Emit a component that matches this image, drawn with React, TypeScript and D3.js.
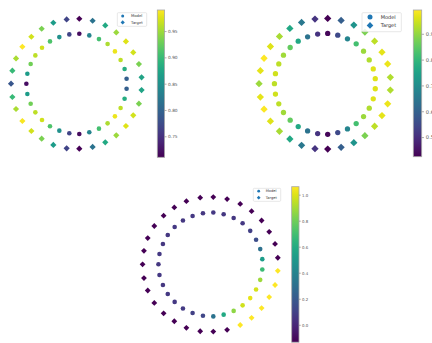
import React from "react";
import * as d3 from "d3";

// Ring geometry shared by all panels (data units, y up). Points run
// counter-clockwise starting at the top of each ring.
const targetX = [0, -0.38, -0.78, -1.13, -1.44, -1.71, -1.9, -2.01, -2.05, -2.01, -1.9, -1.71, -1.44, -1.13, -0.78, -0.38, 0, 0.4, 0.78, 1.11, 1.4, 1.62, 1.79, 1.87, 1.87, 1.79, 1.62, 1.4, 1.11, 0.78, 0.4];
const targetY = [1.95, 1.93, 1.83, 1.65, 1.41, 1.11, 0.76, 0.39, 0, -0.4, -0.76, -1.12, -1.42, -1.65, -1.84, -1.94, -1.95, -1.9, -1.76, -1.55, -1.27, -0.95, -0.6, -0.19, 0.19, 0.59, 0.94, 1.27, 1.54, 1.75, 1.89];
const modelX = [0, -0.3, -0.6, -0.88, -1.12, -1.32, -1.46, -1.56, -1.59, -1.56, -1.46, -1.32, -1.12, -0.88, -0.6, -0.3, 0, 0.3, 0.59, 0.85, 1.07, 1.24, 1.36, 1.42, 1.42, 1.36, 1.24, 1.07, 0.85, 0.59, 0.3];
const modelY = [1.5, 1.48, 1.4, 1.27, 1.08, 0.85, 0.59, 0.3, 0, -0.31, -0.6, -0.86, -1.09, -1.28, -1.41, -1.49, -1.51, -1.46, -1.35, -1.19, -0.98, -0.73, -0.45, -0.15, 0.15, 0.44, 0.71, 0.97, 1.19, 1.34, 1.45];

// Colour values per panel
const targetA = [0.711, 0.767, 0.865, 0.935, 0.972, 0.991, 0.955, 0.9, 0.786, 0.9, 0.955, 0.988, 0.972, 0.935, 0.865, 0.767, 0.713, 0.817, 0.88, 0.949, 0.977, 0.972, 0.935, 0.873, 0.873, 0.935, 0.972, 0.977, 0.949, 0.88, 0.817];
const modelA = [0.72, 0.767, 0.851, 0.913, 0.971, 0.963, 0.93, 0.865, 0.722, 0.865, 0.93, 0.963, 0.971, 0.913, 0.851, 0.767, 0.72, 0.837, 0.907, 0.957, 0.983, 0.963, 0.885, 0.795, 0.795, 0.885, 0.963, 0.983, 0.957, 0.907, 0.837];

const targetB = [0.426, 0.511, 0.653, 0.767, 0.92, 0.966, 0.994, 0.97, 0.909, 0.97, 0.99, 0.966, 0.92, 0.767, 0.653, 0.511, 0.428, 0.596, 0.721, 0.88, 0.937, 0.971, 0.977, 0.926, 0.926, 0.977, 0.971, 0.937, 0.88, 0.721, 0.596];
const modelB = [0.437, 0.511, 0.642, 0.767, 0.858, 0.914, 0.937, 0.954, 0.937, 0.954, 0.937, 0.914, 0.858, 0.767, 0.642, 0.511, 0.437, 0.551, 0.682, 0.824, 0.909, 0.926, 0.966, 0.966, 0.966, 0.966, 0.926, 0.909, 0.824, 0.682, 0.551];

const targetC = [-0.13, -0.13, -0.13, -0.13, -0.13, -0.13, -0.13, -0.13, -0.13, -0.13, -0.13, -0.13, -0.13, -0.13, -0.13, -0.13, -0.13, -0.13, 1.065, 1.065, 1.065, 1.065, 1.065, 1.065, -0.13, -0.13, -0.13, -0.13, -0.13, -0.13, -0.13];
const modelC = [0.07, 0.06, 0.07, 0.06, 0.07, 0.06, 0.06, 0.07, 0.06, 0.07, 0.06, 0.07, 0.07, 0.08, 0.09, 0.12, 0.32, 0.59, 0.86, 0.98, 1.02, 0.99, 0.89, 0.68, 0.53, 0.31, 0.15, 0.09, 0.07, 0.06, 0.06];

const legendLabels = ["Model", "Target"];
const legendColor = "#1f77b4";

type Layout = {
  id: string;
  model: number[];
  target: number[];
  tickFormat: string;
  cx: number;
  cy: number;
  k: number;
  rCircle: number;
  rDiamond: number;
  cbX: number;
  cbY: number;
  cbW: number;
  cbH: number;
  font: number;
  leg: { x: number; y: number; w: number; h: number; mx: number; tx: number; y1: number; y2: number; r: number; d: number; font: number };
  blur: boolean;
};

const panels: Layout[] = [
  {
    id: "a", model: modelA, target: targetA, tickFormat: ".2f",
    cx: 79.3, cy: 83.7, k: 33.3, rCircle: 2.3, rDiamond: 3.1,
    cbX: 157.3, cbY: 10, cbW: 7.3, cbH: 147.3, font: 4.3,
    leg: { x: 117.3, y: 12.7, w: 29.4, h: 13.6, mx: 122.7, tx: 131, y1: 15.9, y2: 22.4, r: 1.5, d: 2.1, font: 3.8 },
    blur: true,
  },
  {
    id: "b", model: modelB, target: targetB, tickFormat: ".1f",
    cx: 327.7, cy: 83.7, k: 33.5, rCircle: 2.65, rDiamond: 3.65,
    cbX: 413.3, cbY: 10, cbW: 8.4, cbH: 146.7, font: 5.2,
    leg: { x: 362, y: 12.7, w: 39.3, h: 19, mx: 370, tx: 380.7, y1: 16.9, y2: 25.4, r: 2.5, d: 3.3, font: 5 },
    blur: false,
  },
  {
    id: "c", model: modelC, target: targetC, tickFormat: ".1f",
    cx: 213.3, cy: 264.3, k: 34.5, rCircle: 2.3, rDiamond: 2.9,
    cbX: 291.7, cbY: 186.7, cbW: 7.3, cbH: 155.5, font: 3.9,
    leg: { x: 253.3, y: 188.3, w: 27.4, h: 13, mx: 258.7, tx: 265.7, y1: 191.2, y2: 197.7, r: 1.4, d: 1.9, font: 3.6 },
    blur: true,
  },
];

const diamondPath = (x: number, y: number, s: number) =>
  `M${x},${y - s}L${x + s},${y}L${x},${y + s}L${x - s},${y}Z`;

function Panel({ p }: { p: Layout }) {
  const xs = d3.scaleLinear().domain([-1, 1]).range([p.cx - p.k, p.cx + p.k]);
  const ys = d3.scaleLinear().domain([-1, 1]).range([p.cy + p.k, p.cy - p.k]);
  const ext = d3.extent([...p.model, ...p.target]) as [number, number];
  const color = d3.scaleSequential(d3.interpolateViridis).domain(ext);
  const cb = d3.scaleLinear().domain(ext).range([p.cbY + p.cbH, p.cbY]);
  const fmt = d3.format(p.tickFormat);
  const stops = d3.range(0, 1.0001, 0.05);
  const gid = `grad-${p.id}`;
  const fid = `soft-${p.id}`;
  const L = p.leg;
  return (
    <g>
      <defs>
        <linearGradient id={gid} x1="0" y1="1" x2="0" y2="0">
          {stops.map((t) => (
            <stop key={t} offset={t} stopColor={d3.interpolateViridis(t)} />
          ))}
        </linearGradient>
        <filter id={fid} x="-10%" y="-10%" width="120%" height="120%">
          <feGaussianBlur stdDeviation="0.35" />
        </filter>
      </defs>
      <g filter={p.blur ? `url(#${fid})` : undefined}>
        {p.model.map((v, i) => (
          <circle key={`m${i}`} cx={xs(modelX[i])} cy={ys(modelY[i])} r={p.rCircle} fill={color(v)} />
        ))}
        {p.target.map((v, i) => (
          <path key={`t${i}`} d={diamondPath(xs(targetX[i]), ys(targetY[i]), p.rDiamond)} fill={color(v)} />
        ))}
      </g>
      {/* legend */}
      <rect x={L.x} y={L.y} width={L.w} height={L.h} rx={1} fill="white" fillOpacity={0.85} stroke="#d6d6d6" strokeWidth={0.6} />
      <circle cx={L.mx} cy={L.y1} r={L.r} fill={legendColor} />
      <path d={diamondPath(L.mx, L.y2, L.d)} fill={legendColor} />
      <text x={L.tx} y={L.y1} dy="0.35em" fontSize={L.font} fill="#333">{legendLabels[0]}</text>
      <text x={L.tx} y={L.y2} dy="0.35em" fontSize={L.font} fill="#333">{legendLabels[1]}</text>
      {/* colorbar */}
      <rect x={p.cbX} y={p.cbY} width={p.cbW} height={p.cbH} fill={`url(#${gid})`} stroke="#a8a8a8" strokeWidth={0.8} />
      {cb.ticks(5).map((t) => (
        <g key={t} transform={`translate(${p.cbX + p.cbW},${cb(t)})`}>
          <line x1={0} x2={p.font * 0.45} stroke="#777" strokeWidth={0.6} />
          <text x={p.font * 0.8} dy="0.35em" fontSize={p.font} fill="#555">{fmt(t)}</text>
        </g>
      ))}
    </g>
  );
}

export default function App() {
  return (
    <svg width={432} height={343} style={{ position: "absolute", left: 0, top: 0, background: "white" }} fontFamily="DejaVu Sans, sans-serif">
      <rect width={432} height={343} fill="white" />
      {panels.map((p) => (
        <Panel key={p.id} p={p} />
      ))}
    </svg>
  );
}
